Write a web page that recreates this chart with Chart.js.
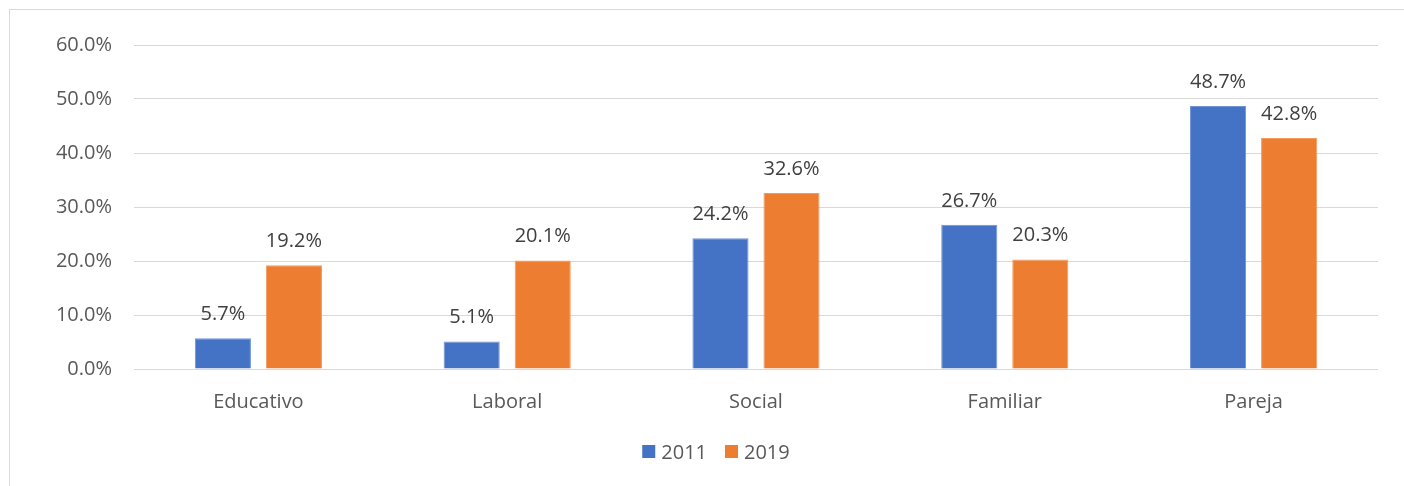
<!DOCTYPE html>
<html><head><meta charset="utf-8">
<script src="https://cdn.jsdelivr.net/npm/chart.js@4"></script>
<style>
html,body{margin:0;padding:0;background:#fff;overflow:hidden}
#wrap{position:relative;width:1404px;height:486px;overflow:hidden}
#frame{position:absolute;left:9px;top:9px;width:1500px;height:600px;border:1px solid #d9d9d9;box-sizing:border-box}
canvas{position:absolute;left:0;top:0}
</style></head><body>
<div id="wrap"><div id="frame"></div><canvas id="c" width="1404" height="486"></canvas></div>
<script>
const categories = ['Educativo','Laboral','Social','Familiar','Pareja'];
const seriesNames = ['2011','2019'];
const values2011 = [5.7, 5.1, 24.2, 26.7, 48.7];
const values2019 = [19.2, 20.1, 32.6, 20.3, 42.8];
const yTickValues = [0, 10, 20, 30, 40, 50, 60];
const seriesColors = ['#4472C4', '#ED7D31'];

const FONT = '"Open Sans", "Noto Sans", sans-serif';

const labelPlugin = {
  id: 'barLabels',
  afterDatasetsDraw(chart) {
    const ctx = chart.ctx;
    ctx.save();
    ctx.font = '20px ' + FONT;
    ctx.fillStyle = '#404040';
    ctx.textAlign = 'center';
    ctx.textBaseline = 'alphabetic';
    chart.data.datasets.forEach((ds, i) => {
      chart.getDatasetMeta(i).data.forEach((bar, j) => {
        ctx.fillText(ds.data[j].toFixed(1) + '%', bar.x, bar.y - 18);
      });
    });
    ctx.restore();
  }
};

const legendPlugin = {
  id: 'customLegend',
  afterDraw(chart) {
    const ctx = chart.ctx;
    ctx.save();
    ctx.font = '20px ' + FONT;
    ctx.textBaseline = 'alphabetic';
    ctx.textAlign = 'left';
    const box = 13, gap = 6, itemGap = 18;
    const items = chart.data.datasets.map(ds => ({label: ds.label, color: ds.backgroundColor, w: ctx.measureText(ds.label).width}));
    let total = 0;
    items.forEach((it, i) => { total += box + gap + it.w + (i ? itemGap : 0); });
    let x = 716 - total / 2;
    items.forEach((it, i) => {
      if (i) x += itemGap;
      ctx.fillStyle = it.color;
      ctx.fillRect(x, 445, box, box);
      x += box + gap;
      ctx.fillStyle = '#595959';
      ctx.fillText(it.label, x, 459);
      x += it.w;
    });
    ctx.restore();
  }
};

new Chart(document.getElementById('c'), {
  type: 'bar',
  data: {
    labels: categories,
    datasets: [
      {label: seriesNames[0], data: values2011, backgroundColor: seriesColors[0], borderColor: '#6f93d3', borderWidth: 1},
      {label: seriesNames[1], data: values2019, backgroundColor: seriesColors[1], borderColor: '#f29a5e', borderWidth: 1}
    ]
  },
  options: {
    responsive: false,
    animation: false,
    devicePixelRatio: 1,
    layout: {padding: {top: 45, right: 26, left: 0, bottom: 57}},
    datasets: {bar: {categoryPercentage: 0.571, barPercentage: 0.79}},
    plugins: {legend: {display: false}, tooltip: {enabled: false}, title: {display: false}},
    scales: {
      x: {
        grid: {display: false},
        border: {display: false},
        ticks: {font: {size: 20, family: FONT}, color: '#595959', padding: 13},
        afterFit(s) { s.height = 60; }
      },
      y: {
        min: 0, max: 60,
        afterBuildTicks(s) { s.ticks = yTickValues.map(v => ({value: v})); },
        grid: {color: '#d9d9d9', lineWidth: 1, drawTicks: false},
        border: {display: false},
        ticks: {font: {size: 20, family: FONT}, color: '#595959', padding: 22,
          callback: v => Number(v).toFixed(1) + '%'},
        afterFit(s) { s.width = 134; }
      }
    }
  },
  plugins: [labelPlugin, legendPlugin]
});
</script>
</body></html>
